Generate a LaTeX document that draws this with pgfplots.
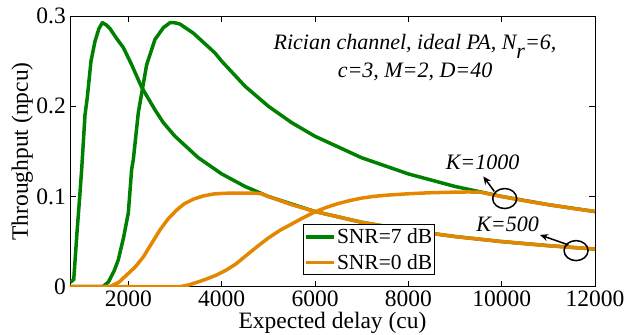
\documentclass[border=0pt]{standalone}
\usepackage{fontspec}
\setmainfont{Liberation Serif}
\usepackage{pgfplots}
\pgfplotsset{compat=1.18}
\usetikzlibrary{arrows.meta}
\definecolor{mgreen}{RGB}{0,128,0}
\definecolor{morange}{RGB}{228,134,0}
\newcommand\bigf{\fontsize{23.5bp}{27bp}\selectfont}
\newcommand\annf{\fontsize{22bp}{26bp}\selectfont}
\newcommand\legf{\fontsize{21.5bp}{25bp}\selectfont}
\begin{document}
\begin{tikzpicture}
\begin{axis}[
  scale only axis, width=525bp, height=270.7bp,
  xmin=750, xmax=12000, ymin=0, ymax=0.3,
  scaled x ticks=false, scaled y ticks=false,
  xtick={2000,4000,6000,8000,10000,12000},
  xticklabels={2000,4000,6000,8000,10000,12000},
  ytick={0,0.1,0.2,0.3},
  yticklabels={0,0.1,0.2,0.3},
  /pgf/number format/assume math mode=true,
  tick align=inside, major tick length=6bp,
  xtick pos=both, ytick pos=both,
  axis line style={line width=0.8bp}, tick style={line width=0.8bp,black},
  ticklabel style={font=\bigf},
  xticklabel style={inner sep=2bp, yshift=-2bp},
  yticklabel style={inner sep=2bp, xshift=-2bp},
  xlabel={Expected delay (cu)}, ylabel={Throughput (npcu)},
  xlabel style={font=\bigf, at={(axis description cs:0.5,-0.133)}, anchor=center},
  ylabel style={font=\bigf, at={(axis description cs:-0.091,0.5)}, anchor=center},
  legend style={at={(0.444,0.230)}, anchor=north west, font=\legf,
    draw=black, line width=0.8bp, inner xsep=1bp, inner ysep=3bp, row sep=7bp,
    nodes={inner sep=1bp}},
  legend cell align=left,
  legend image code/.code={\draw[#1,line width=3.5bp] (0bp,0bp) -- (28bp,0bp);},
  legend image post style={line width=3.5bp},
  every axis plot/.append style={line width=3.5bp, line join=round},
]
% SNR=7 dB, K=500
\addplot[mgreen] coordinates {
(760,0.005)(830,0.008)(900,0.06)(964,0.104)(1000,0.13)(1071,0.19)(1121,0.21)(1200,0.25)
(1286,0.272)(1370,0.286)(1443,0.2926)(1530,0.290)(1607,0.286)(1750,0.275)(1893,0.265)
(2071,0.246)(2286,0.221)(2571,0.196)(2750,0.1818)(3000,0.1667)(3500,0.1429)
(4000,0.125)(4500,0.1111)(5000,0.1)(6000,0.0833)(7000,0.0714)(8000,0.0625)(9000,0.0556)
(10000,0.05)(11000,0.0455)(12000,0.0417)};
\addlegendentry{SNR=7 dB}
% SNR=7 dB, K=1000
\addplot[mgreen, forget plot] coordinates {
(750,0)(1450,0)(1571,0.005)(1700,0.018)(1786,0.03)(1900,0.055)(2000,0.082)(2071,0.13)
(2107,0.141)(2214,0.193)(2393,0.246)(2571,0.274)(2750,0.287)(2893,0.2926)(3000,0.2925)
(3107,0.291)(3393,0.281)(3857,0.259)(4000,0.25)(4500,0.2222)(5000,0.2)(5500,0.1818)
(6000,0.1667)(7000,0.1429)(8000,0.125)(9000,0.1111)(10000,0.1)(11000,0.0909)(12000,0.0833)};
% SNR=0 dB, K=500
\addplot[morange] coordinates {
(750,0)(1607,0)(1800,0.005)(1964,0.013)(2150,0.022)(2321,0.033)(2500,0.048)(2679,0.063)
(2850,0.075)(3036,0.085)(3200,0.092)(3393,0.097)(3600,0.1005)(3821,0.1027)(4050,0.1035)
(4250,0.1037)(4500,0.1038)(4700,0.1036)(4850,0.1031)(5000,0.1)(5500,0.0909)(6000,0.0833)
(7000,0.0714)(8000,0.0625)(9000,0.0556)(10000,0.05)(11000,0.0455)(12000,0.0417)};
\addlegendentry{SNR=0 dB}
% SNR=0 dB, K=1000
\addplot[morange, forget plot] coordinates {
(750,0)(3107,0)(3300,0.002)(3536,0.006)(3700,0.009)(3893,0.013)(4100,0.0185)(4300,0.025)
(4500,0.0335)(4750,0.044)(5000,0.054)(5250,0.0625)(5500,0.0695)(5750,0.0765)(6000,0.0830)
(6250,0.0880)(6500,0.0922)(6750,0.0955)(7000,0.0982)(7250,0.1000)(7500,0.1013)(8000,0.1030)
(8500,0.1042)(9000,0.1048)(9300,0.1050)(9550,0.1047)(10000,0.1)(10500,0.0952)(11000,0.0909)
(11500,0.087)(12000,0.0833)};
% annotations
\draw[black, line width=1.5bp] (axis cs:10065,0.0977) ellipse [x radius=12bp, y radius=10bp];
\draw[black, line width=1.5bp, -{Stealth[length=8bp,width=7bp]}] (axis cs:9843,0.1056) -- (axis cs:9607,0.1222);
\node[font=\annf\itshape] at (axis cs:9590,0.1374) {K=1000};
\draw[black, line width=1.5bp] (axis cs:11594,0.040) ellipse [x radius=12bp, y radius=10bp];
\draw[black, line width=1.5bp, -{Stealth[length=8bp,width=7bp]}] (axis cs:11429,0.0463) -- (axis cs:10822,0.0574);
\node[font=\annf\itshape] at (axis cs:10126,0.0697) {K=500};
\node[font=\annf\itshape] at (axis cs:8143,0.2663) {Rician channel, ideal PA, N\raisebox{-0.45em}{r}=6,};
\node[font=\annf\itshape] at (axis cs:8143,0.2386) {c=3, M=2, D=40};
\end{axis}
\pgfresetboundingbox
\path (current axis.south west) ++(-70bp,-48.3bp) rectangle ++(634bp,335bp);
\end{tikzpicture}
\end{document}
